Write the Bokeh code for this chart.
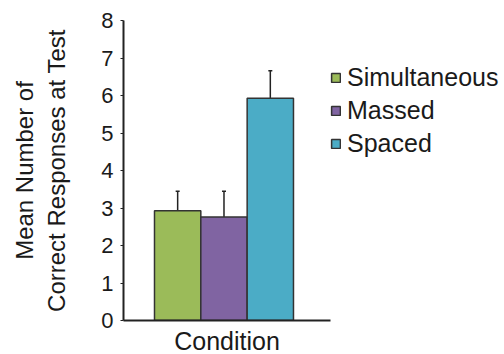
from bokeh.plotting import figure
from bokeh.models import ColumnDataSource, Range1d, FixedTicker, Whisker, TeeHead, Legend, LegendItem
from bokeh.embed import file_html
from bokeh.resources import INLINE

conditions = ["Simultaneous", "Massed", "Spaced"]
means = [2.93, 2.76, 5.93]
errors = [0.52, 0.69, 0.73]
colors = ["#9BBB59", "#8064A2", "#4BACC6"]
y_ticks = [0, 1, 2, 3, 4, 5, 6, 7, 8]

FONT = "Liberation Sans"
xs = [1, 2, 3]
src = ColumnDataSource(dict(
    x=xs, top=means, color=colors, name=conditions,
    upper=[m + e for m, e in zip(means, errors)],
))

p = figure(frame_width=207, frame_height=300, output_backend="svg", toolbar_location=None,
           x_range=Range1d(-0.169, 4.299), y_range=Range1d(0, 8),
           min_border_left=123, min_border_top=20, min_border_bottom=34,
           min_border_right=0)
p.outline_line_color = None
p.grid.visible = False
p.background_fill_color = "white"
p.border_fill_color = "white"

wh = Whisker(source=src, base="x", upper="upper", lower="top",
             upper_head=TeeHead(size=4, line_color="#222222", line_width=1.5),
             lower_head=None, line_color="#222222", line_width=1.5)
p.add_layout(wh)

renderers = []
for i in range(3):
    r = p.vbar(x=[xs[i]], top=[means[i]], width=1.0, fill_color=colors[i],
               line_color="#333333", line_width=1.5)
    renderers.append(r)

# y axis
ya = p.yaxis[0]
ya.ticker = FixedTicker(ticks=y_ticks)
ya.axis_label = "Mean Number of\nCorrect Responses at Test"
ya.axis_label_text_font = FONT
ya.axis_label_text_font_size = "24px"
ya.axis_label_text_font_style = "normal"
ya.axis_label_text_color = "#1a1a1a"
ya.axis_label_standoff = 28
ya.major_label_text_font = FONT
ya.major_label_text_font_size = "22px"
ya.major_label_text_color = "#1a1a1a"
ya.major_label_standoff = 7
ya.major_tick_in = 0
ya.major_tick_out = 3
ya.major_tick_line_color = "#222222"
ya.minor_tick_line_color = None
ya.axis_line_color = "#222222"
ya.axis_line_width = 2

# x axis
xa = p.xaxis[0]
xa.ticker = FixedTicker(ticks=[])
xa.major_label_text_font_size = "0px"
xa.major_tick_line_color = None
xa.minor_tick_line_color = None
xa.axis_line_color = "#222222"
xa.axis_line_width = 2
xa.axis_label = "Condition"
xa.axis_label_text_font = FONT
xa.axis_label_text_font_size = "25px"
xa.axis_label_text_font_style = "normal"
xa.axis_label_text_color = "#1a1a1a"
xa.axis_label_standoff = 6

legend = Legend(items=[LegendItem(label=conditions[i], renderers=[renderers[i]]) for i in range(3)],
                location=(0, 162), border_line_color=None, background_fill_alpha=0,
                glyph_width=11, glyph_height=11, label_standoff=6, spacing=4,
                label_text_font=FONT, label_text_font_size="25px",
                label_text_color="#1a1a1a", padding=0, margin=0,
                label_height=23)
p.add_layout(legend, "right")

open("out.html", "w").write(file_html(p, INLINE))
